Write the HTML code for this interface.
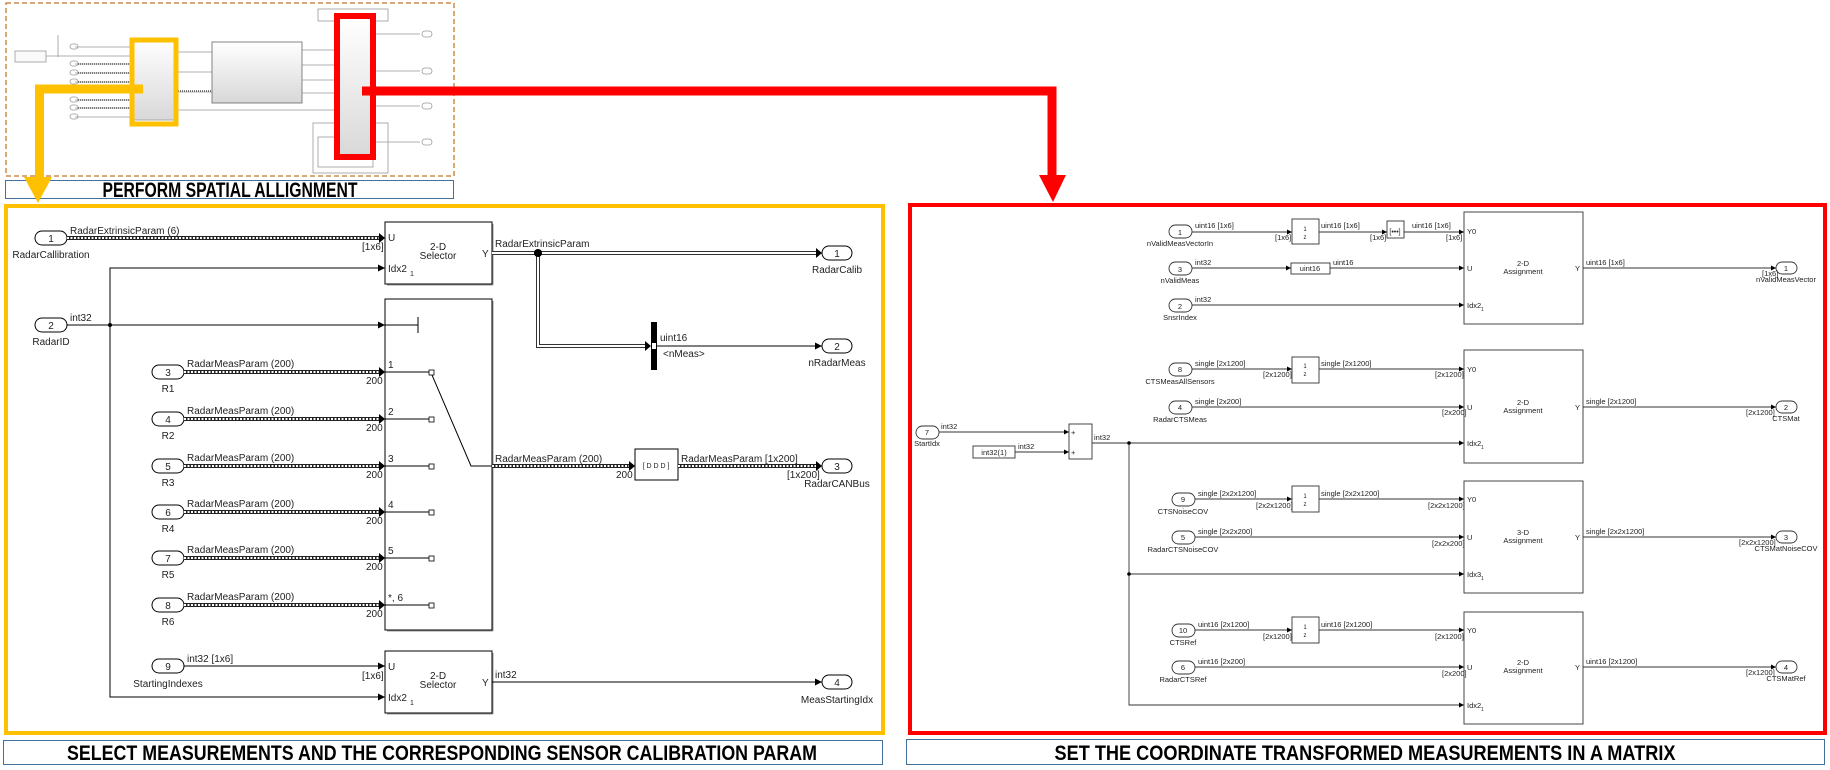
<!DOCTYPE html>
<html><head><meta charset="utf-8">
<style>
html,body{margin:0;padding:0;background:#fff;}
svg{display:block;}
text{font-family:"Liberation Sans",Arial,sans-serif;fill:#222;}
.s{font-size:10px;}
.r{font-size:7.5px;}
.t{font-family:"Liberation Sans Narrow","Liberation Sans",sans-serif;font-weight:bold;font-size:21px;fill:#000;}
</style></head>
<body>
<svg width="1830" height="770" viewBox="0 0 1830 770" xmlns="http://www.w3.org/2000/svg">
<defs>
<marker id="a" viewBox="0 0 10 10" refX="10" refY="5" markerWidth="7" markerHeight="7" orient="auto" markerUnits="userSpaceOnUse"><path d="M0,0L10,5L0,10z" fill="#000"/></marker>
<marker id="b" viewBox="0 0 10 10" refX="10" refY="5" markerWidth="5" markerHeight="5" orient="auto" markerUnits="userSpaceOnUse"><path d="M0,0L10,5L0,10z" fill="#000"/></marker>
<linearGradient id="g" x1="0" y1="0" x2="0" y2="1"><stop offset="0" stop-color="#fff"/><stop offset="1" stop-color="#d8d8d8"/></linearGradient>
</defs>

<!-- ===== Thumbnail ===== -->
<rect x="6" y="3" width="448" height="173" fill="none" stroke="#d08a4a" stroke-width="1.5" stroke-dasharray="5,3"/>
<g stroke="#999" stroke-width="0.8" fill="none">
<rect x="15" y="51" width="31" height="11" fill="#fafafa"/>
<line x1="46" y1="56" x2="130" y2="56"/>
<line x1="58" y1="35" x2="58" y2="57"/>
<line x1="75" y1="47" x2="130" y2="47"/><line x1="75" y1="64" x2="130" y2="64"/>
<line x1="75" y1="73" x2="130" y2="73"/><line x1="75" y1="82" x2="130" y2="82"/>
<line x1="75" y1="100" x2="130" y2="100"/><line x1="75" y1="108" x2="130" y2="108"/>
<line x1="75" y1="117" x2="130" y2="117"/>
<rect x="130" y="40" width="48" height="80" fill="url(#g)"/>
<line x1="178" y1="52" x2="212" y2="52"/><line x1="178" y1="72" x2="212" y2="72"/>
<line x1="178" y1="92" x2="212" y2="92"/><line x1="178" y1="110" x2="335" y2="110"/>
<rect x="212" y="42" width="90" height="61" fill="url(#g)" stroke="#666"/>
<line x1="302" y1="50" x2="335" y2="50"/><line x1="302" y1="65" x2="335" y2="65"/>
<line x1="302" y1="80" x2="335" y2="80"/><line x1="302" y1="93" x2="335" y2="93"/>
<rect x="318" y="9" width="70" height="12" fill="#fff"/>
<rect x="313" y="123" width="75" height="50" fill="#fff"/>
<rect x="318" y="137" width="55" height="30" fill="#fff"/>
<rect x="335" y="18" width="38" height="140" fill="url(#g)"/>
<line x1="376" y1="34" x2="420" y2="34"/><line x1="376" y1="71" x2="420" y2="71"/>
<line x1="376" y1="106" x2="420" y2="106"/><line x1="376" y1="142" x2="420" y2="142"/>
<rect x="422" y="31" width="10" height="6" rx="3"/><rect x="422" y="68" width="10" height="6" rx="3"/>
<rect x="422" y="103" width="10" height="6" rx="3"/><rect x="422" y="139" width="10" height="6" rx="3"/>
<rect x="70" y="44" width="8" height="5" rx="2.5"/><rect x="70" y="61" width="8" height="5" rx="2.5"/>
<rect x="70" y="70" width="8" height="5" rx="2.5"/><rect x="70" y="79" width="8" height="5" rx="2.5"/>
<rect x="70" y="97" width="8" height="5" rx="2.5"/><rect x="70" y="105" width="8" height="5" rx="2.5"/>
<rect x="70" y="114" width="8" height="5" rx="2.5"/>
</g>
<g stroke="#555" stroke-width="1.6" stroke-dasharray="1,1"><line x1="78" y1="64" x2="130" y2="64"/><line x1="78" y1="73" x2="130" y2="73"/><line x1="78" y1="82" x2="130" y2="82"/><line x1="78" y1="100" x2="130" y2="100"/><line x1="78" y1="108" x2="130" y2="108"/><line x1="178" y1="91" x2="212" y2="91"/></g>
<rect x="132" y="40" width="44" height="84" fill="none" stroke="#FFC000" stroke-width="5"/>
<rect x="337" y="16" width="36" height="141" fill="none" stroke="#FF0000" stroke-width="6"/>

<!-- title 1 -->
<rect x="5.5" y="180.5" width="448" height="18" fill="#fff" stroke="#41719C" stroke-width="1"/>
<text class="t" x="230" y="197" text-anchor="middle" textLength="255" lengthAdjust="spacingAndGlyphs">PERFORM SPATIAL ALLIGNMENT</text>

<!-- yellow arrow -->
<polyline points="143,89 39.5,89 39.5,180" fill="none" stroke="#FFC000" stroke-width="9"/>
<polygon points="24,177 52,177 38,203" fill="#FFC000"/>
<!-- red arrow -->
<polyline points="362,91 1052,91 1052,178" fill="none" stroke="#FF0000" stroke-width="9"/>
<polygon points="1039,175 1066,175 1053,202" fill="#FF0000"/>

<!-- ===== Left panel ===== -->
<rect x="6" y="206" width="877" height="527" fill="none" stroke="#FFC000" stroke-width="4"/>
<g stroke="#000" stroke-width="1" fill="none">
<rect x="385" y="222" width="107" height="62" fill="#fff"/>
<rect x="385" y="299" width="107" height="331" fill="#fff"/>
<rect x="385" y="651" width="107" height="62" fill="#fff"/>
<line x1="387" y1="285" x2="493" y2="285" stroke="#999"/><line x1="493" y1="224" x2="493" y2="285" stroke="#999"/>
<line x1="387" y1="631" x2="493" y2="631" stroke="#999"/><line x1="493" y1="301" x2="493" y2="631" stroke="#999"/>
<line x1="387" y1="714" x2="493" y2="714" stroke="#999"/><line x1="493" y1="653" x2="493" y2="714" stroke="#999"/>
<polyline points="110,325 110,268 385,268" marker-end="url(#a)"/>
<polyline points="110,325 110,697 385,697" marker-end="url(#a)"/>
<line x1="67" y1="325" x2="385" y2="325" marker-end="url(#a)"/>
<line x1="385" y1="325" x2="418" y2="325"/><line x1="418" y1="317" x2="418" y2="333"/>
<line x1="184" y1="666" x2="385" y2="666" marker-end="url(#a)"/>
<line x1="492" y1="682" x2="822" y2="682" marker-end="url(#a)"/>
<line x1="657" y1="346" x2="822" y2="346" marker-end="url(#a)"/>
<line x1="385" y1="372" x2="429" y2="372"/><line x1="385" y1="419" x2="429" y2="419"/>
<line x1="385" y1="466" x2="429" y2="466"/><line x1="385" y1="512" x2="429" y2="512"/>
<line x1="385" y1="558" x2="429" y2="558"/><line x1="385" y1="605" x2="429" y2="605"/>
<rect x="429" y="370" width="5" height="5" fill="#fff" stroke-width="0.8"/>
<rect x="429" y="417" width="5" height="5" fill="#fff" stroke-width="0.8"/>
<rect x="429" y="464" width="5" height="5" fill="#fff" stroke-width="0.8"/>
<rect x="429" y="510" width="5" height="5" fill="#fff" stroke-width="0.8"/>
<rect x="429" y="556" width="5" height="5" fill="#fff" stroke-width="0.8"/>
<rect x="429" y="603" width="5" height="5" fill="#fff" stroke-width="0.8"/>
<polyline points="432,375 471,466 492,466"/>
<rect x="635" y="449" width="43" height="31" fill="#fff"/>
<rect x="35" y="231" width="32" height="14" rx="7" fill="#fff"/>
<rect x="35" y="318" width="32" height="14" rx="7" fill="#fff"/>
<rect x="152" y="365" width="32" height="14" rx="7" fill="#fff"/>
<rect x="152" y="412" width="32" height="14" rx="7" fill="#fff"/>
<rect x="152" y="459" width="32" height="14" rx="7" fill="#fff"/>
<rect x="152" y="505" width="32" height="14" rx="7" fill="#fff"/>
<rect x="152" y="551" width="32" height="14" rx="7" fill="#fff"/>
<rect x="152" y="598" width="32" height="14" rx="7" fill="#fff"/>
<rect x="152" y="659" width="32" height="14" rx="7" fill="#fff"/>
<rect x="822" y="246" width="30" height="14" rx="7" fill="#fff"/>
<rect x="822" y="339" width="30" height="14" rx="7" fill="#fff"/>
<rect x="822" y="459" width="30" height="14" rx="7" fill="#fff"/>
<rect x="822" y="675" width="30" height="14" rx="7" fill="#fff"/>
</g>
<g fill="none">
<g stroke="#222" stroke-width="4">
<line x1="67" y1="238" x2="379" y2="238"/>
<line x1="184" y1="372" x2="379" y2="372"/><line x1="184" y1="419" x2="379" y2="419"/>
<line x1="184" y1="466" x2="379" y2="466"/><line x1="184" y1="512" x2="379" y2="512"/>
<line x1="184" y1="558" x2="379" y2="558"/><line x1="184" y1="605" x2="379" y2="605"/>
<line x1="492" y1="466" x2="629" y2="466"/><line x1="678" y1="466" x2="816" y2="466"/>
</g>
<g stroke="#fff" stroke-width="2" stroke-dasharray="2,1.5">
<line x1="67" y1="238" x2="379" y2="238"/>
<line x1="184" y1="372" x2="379" y2="372"/><line x1="184" y1="419" x2="379" y2="419"/>
<line x1="184" y1="466" x2="379" y2="466"/><line x1="184" y1="512" x2="379" y2="512"/>
<line x1="184" y1="558" x2="379" y2="558"/><line x1="184" y1="605" x2="379" y2="605"/>
<line x1="492" y1="466" x2="629" y2="466"/><line x1="678" y1="466" x2="816" y2="466"/>
</g>
<polyline points="492,253 816,253" stroke="#333" stroke-width="4"/>
<polyline points="538,253 538,346 645,346" stroke="#333" stroke-width="4"/>
<polyline points="492,253 816,253" stroke="#fff" stroke-width="2"/>
<polyline points="538,253 538,346 645,346" stroke="#fff" stroke-width="2"/>
</g>
<g fill="#000">
<path d="M379,233L385,238L379,243z"/>
<path d="M379,367L385,372L379,377z"/><path d="M379,414L385,419L379,424z"/>
<path d="M379,461L385,466L379,471z"/><path d="M379,507L385,512L379,517z"/>
<path d="M379,553L385,558L379,563z"/><path d="M379,600L385,605L379,610z"/>
<path d="M629,461L635,466L629,471z"/><path d="M816,461L822,466L816,471z"/>
<path d="M816,248L822,253L816,258z"/><path d="M645,341L651,346L645,351z"/>
<circle cx="538" cy="253" r="4"/><circle cx="110" cy="325" r="2"/>
<rect x="651" y="322" width="6" height="48"/>
</g>
<rect x="652" y="343" width="4" height="6" fill="#fff"/>
<g class="s">
<text x="70" y="234">RadarExtrinsicParam (6)</text>
<text x="51" y="258" text-anchor="middle">RadarCallibration</text>
<text x="70" y="321">int32</text>
<text x="51" y="345" text-anchor="middle">RadarID</text>
<text x="51" y="242" text-anchor="middle">1</text>
<text x="51" y="329" text-anchor="middle">2</text>
<text x="388" y="241">U</text><text x="362" y="250">[1x6]</text>
<text x="388" y="272">Idx2</text><text x="410" y="276" font-size="7">1</text>
<text x="438" y="250" text-anchor="middle">2-D</text><text x="438" y="259" text-anchor="middle">Selector</text>
<text x="482" y="257">Y</text>
<text x="495" y="247">RadarExtrinsicParam</text>
<text x="837" y="257" text-anchor="middle">1</text><text x="837" y="273" text-anchor="middle">RadarCalib</text>
<text x="660" y="341">uint16</text><text x="663" y="357">&lt;nMeas&gt;</text>
<text x="837" y="350" text-anchor="middle">2</text><text x="837" y="366" text-anchor="middle">nRadarMeas</text>
<text x="187" y="367">RadarMeasParam (200)</text><text x="168" y="376" text-anchor="middle">3</text><text x="168" y="392" text-anchor="middle">R1</text><text x="366" y="384">200</text><text x="388" y="368">1</text>
<text x="187" y="414">RadarMeasParam (200)</text><text x="168" y="423" text-anchor="middle">4</text><text x="168" y="439" text-anchor="middle">R2</text><text x="366" y="431">200</text><text x="388" y="415">2</text>
<text x="187" y="461">RadarMeasParam (200)</text><text x="168" y="470" text-anchor="middle">5</text><text x="168" y="486" text-anchor="middle">R3</text><text x="366" y="478">200</text><text x="388" y="462">3</text>
<text x="187" y="507">RadarMeasParam (200)</text><text x="168" y="516" text-anchor="middle">6</text><text x="168" y="532" text-anchor="middle">R4</text><text x="366" y="524">200</text><text x="388" y="508">4</text>
<text x="187" y="553">RadarMeasParam (200)</text><text x="168" y="562" text-anchor="middle">7</text><text x="168" y="578" text-anchor="middle">R5</text><text x="366" y="570">200</text><text x="388" y="554">5</text>
<text x="187" y="600">RadarMeasParam (200)</text><text x="168" y="609" text-anchor="middle">8</text><text x="168" y="625" text-anchor="middle">R6</text><text x="366" y="617">200</text><text x="388" y="601">*, 6</text>
<text x="495" y="462">RadarMeasParam (200)</text><text x="616" y="478">200</text>
<text x="656" y="468" text-anchor="middle" font-size="7">[ D D D ]</text>
<text x="681" y="462">RadarMeasParam [1x200]</text><text x="787" y="478">[1x200]</text>
<text x="837" y="470" text-anchor="middle">3</text><text x="837" y="487" text-anchor="middle">RadarCANBus</text>
<text x="187" y="662">int32 [1x6]</text><text x="168" y="670" text-anchor="middle">9</text><text x="168" y="687" text-anchor="middle">StartingIndexes</text>
<text x="388" y="670">U</text><text x="362" y="679">[1x6]</text>
<text x="388" y="701">Idx2</text><text x="410" y="705" font-size="7">1</text>
<text x="438" y="679" text-anchor="middle">2-D</text><text x="438" y="688" text-anchor="middle">Selector</text>
<text x="482" y="686">Y</text><text x="495" y="678">int32</text>
<text x="837" y="686" text-anchor="middle">4</text><text x="837" y="703" text-anchor="middle">MeasStartingIdx</text>
</g>
<rect x="3.5" y="740.5" width="879" height="24" fill="#fff" stroke="#41719C" stroke-width="1"/>
<text class="t" x="442" y="760" text-anchor="middle" textLength="750" lengthAdjust="spacingAndGlyphs" font-size="24">SELECT MEASUREMENTS AND THE CORRESPONDING SENSOR CALIBRATION PARAM</text>

<!-- ===== Right panel ===== -->
<rect x="910" y="205" width="915" height="528" fill="none" stroke="#FF0000" stroke-width="4"/>
<g stroke="#333" stroke-width="0.9" fill="none">
<rect x="1464" y="212" width="119" height="112" fill="#fff"/>
<rect x="1464" y="350" width="119" height="113" fill="#fff"/>
<rect x="1464" y="481" width="119" height="112" fill="#fff"/>
<rect x="1464" y="612" width="119" height="112" fill="#fff"/>
<line x1="1192" y1="232" x2="1292" y2="232" marker-end="url(#b)"/>
<rect x="1292" y="219" width="27" height="25" fill="#fff"/>
<line x1="1319" y1="232" x2="1387" y2="232" marker-end="url(#b)"/>
<rect x="1387" y="221" width="17" height="17" fill="#fff"/>
<line x1="1404" y1="232" x2="1464" y2="232" marker-end="url(#b)"/>
<line x1="1192" y1="268" x2="1291" y2="268" marker-end="url(#b)"/>
<rect x="1291" y="263" width="39" height="11" fill="#fff"/>
<line x1="1330" y1="268" x2="1464" y2="268" marker-end="url(#b)"/>
<line x1="1192" y1="305" x2="1464" y2="305" marker-end="url(#b)"/>
<line x1="1583" y1="268" x2="1776" y2="268" marker-end="url(#b)"/>
<line x1="1192" y1="369" x2="1292" y2="369" marker-end="url(#b)"/>
<rect x="1292" y="357" width="27" height="26" fill="#fff"/>
<line x1="1319" y1="369" x2="1464" y2="369" marker-end="url(#b)"/>
<line x1="1192" y1="407" x2="1464" y2="407" marker-end="url(#b)"/>
<line x1="1583" y1="407" x2="1776" y2="407" marker-end="url(#b)"/>
<line x1="1129" y1="443" x2="1464" y2="443" marker-end="url(#b)"/>
<line x1="1195" y1="499" x2="1292" y2="499" marker-end="url(#b)"/>
<rect x="1292" y="486" width="27" height="26" fill="#fff"/>
<line x1="1319" y1="499" x2="1464" y2="499" marker-end="url(#b)"/>
<line x1="1195" y1="537" x2="1464" y2="537" marker-end="url(#b)"/>
<line x1="1583" y1="537" x2="1776" y2="537" marker-end="url(#b)"/>
<line x1="1129" y1="574" x2="1464" y2="574" marker-end="url(#b)"/>
<line x1="1195" y1="630" x2="1292" y2="630" marker-end="url(#b)"/>
<rect x="1292" y="617" width="27" height="26" fill="#fff"/>
<line x1="1319" y1="630" x2="1464" y2="630" marker-end="url(#b)"/>
<line x1="1195" y1="667" x2="1464" y2="667" marker-end="url(#b)"/>
<line x1="1583" y1="667" x2="1776" y2="667" marker-end="url(#b)"/>
<polyline points="1129,443 1129,705 1464,705" marker-end="url(#b)"/>
<line x1="939" y1="432" x2="1069" y2="432" marker-end="url(#b)"/>
<rect x="973" y="446" width="42" height="12" fill="#fff"/>
<line x1="1015" y1="452" x2="1069" y2="452" marker-end="url(#b)"/>
<rect x="1069" y="424" width="23" height="35" fill="#fff"/>
<line x1="1092" y1="443" x2="1129" y2="443"/>
<rect x="1169" y="225" width="23" height="13" rx="6.5" fill="#fff"/>
<rect x="1169" y="262" width="23" height="13" rx="6.5" fill="#fff"/>
<rect x="1169" y="299" width="23" height="13" rx="6.5" fill="#fff"/>
<rect x="1169" y="363" width="23" height="13" rx="6.5" fill="#fff"/>
<rect x="1169" y="401" width="23" height="13" rx="6.5" fill="#fff"/>
<rect x="1172" y="493" width="23" height="13" rx="6.5" fill="#fff"/>
<rect x="1172" y="531" width="23" height="13" rx="6.5" fill="#fff"/>
<rect x="1172" y="624" width="23" height="13" rx="6.5" fill="#fff"/>
<rect x="1172" y="661" width="23" height="13" rx="6.5" fill="#fff"/>
<rect x="916" y="426" width="23" height="13" rx="6.5" fill="#fff"/>
<rect x="1776" y="262" width="21" height="12" rx="6" fill="#fff"/>
<rect x="1776" y="401" width="21" height="12" rx="6" fill="#fff"/>
<rect x="1776" y="531" width="21" height="12" rx="6" fill="#fff"/>
<rect x="1776" y="661" width="21" height="12" rx="6" fill="#fff"/>
</g>
<circle cx="1129" cy="443" r="1.8" fill="#000"/><circle cx="1129" cy="574" r="1.8" fill="#000"/>
<g class="r">
<text x="1180" y="235" text-anchor="middle">1</text><text x="1180" y="246" text-anchor="middle">nValidMeasVectorIn</text>
<text x="1180" y="272" text-anchor="middle">3</text><text x="1180" y="283" text-anchor="middle">nValidMeas</text>
<text x="1180" y="309" text-anchor="middle">2</text><text x="1180" y="320" text-anchor="middle">SnsrIndex</text>
<text x="1195" y="228">uint16 [1x6]</text><text x="1195" y="265">int32</text><text x="1195" y="302">int32</text>
<text x="1275" y="240">[1x6]</text>
<text x="1305" y="231" text-anchor="middle" font-size="6">1</text><text x="1305" y="239" text-anchor="middle" font-size="6">z</text>
<text x="1321" y="228">uint16 [1x6]</text><text x="1370" y="240">[1x6]</text>
<text x="1395" y="234" text-anchor="middle" font-size="7">[•••]</text>
<text x="1412" y="228">uint16 [1x6]</text><text x="1446" y="240">[1x6]</text>
<text x="1310" y="271" text-anchor="middle">uint16</text><text x="1333" y="265">uint16</text>
<text x="1467" y="234">Y0</text><text x="1467" y="271">U</text><text x="1467" y="308">Idx2</text><text x="1481" y="311" font-size="5">1</text>
<text x="1523" y="266" text-anchor="middle">2-D</text><text x="1523" y="274" text-anchor="middle">Assignment</text>
<text x="1575" y="271">Y</text><text x="1586" y="265">uint16 [1x6]</text>
<text x="1786" y="271" text-anchor="middle">1</text><text x="1762" y="276">[1x6]</text><text x="1786" y="282" text-anchor="middle">nValidMeasVector</text>

<text x="1180" y="372" text-anchor="middle">8</text><text x="1180" y="384" text-anchor="middle">CTSMeasAllSensors</text>
<text x="1180" y="410" text-anchor="middle">4</text><text x="1180" y="422" text-anchor="middle">RadarCTSMeas</text>
<text x="1195" y="366">single [2x1200]</text><text x="1195" y="404">single [2x200]</text>
<text x="1263" y="377">[2x1200]</text>
<text x="1305" y="368" text-anchor="middle" font-size="6">1</text><text x="1305" y="376" text-anchor="middle" font-size="6">z</text>
<text x="1321" y="366">single [2x1200]</text><text x="1435" y="377">[2x1200]</text><text x="1442" y="415">[2x200]</text>
<text x="1467" y="372">Y0</text><text x="1467" y="410">U</text><text x="1467" y="446">Idx2</text><text x="1481" y="449" font-size="5">1</text>
<text x="1523" y="405" text-anchor="middle">2-D</text><text x="1523" y="413" text-anchor="middle">Assignment</text>
<text x="1575" y="410">Y</text><text x="1586" y="404">single [2x1200]</text>
<text x="1786" y="410" text-anchor="middle">2</text><text x="1746" y="415">[2x1200]</text><text x="1786" y="421" text-anchor="middle">CTSMat</text>

<text x="927" y="435" text-anchor="middle">7</text><text x="927" y="446" text-anchor="middle">StartIdx</text>
<text x="941" y="429">int32</text><text x="994" y="455" text-anchor="middle">int32(1)</text><text x="1018" y="449">int32</text>
<text x="1071" y="435">+</text><text x="1071" y="455">+</text><text x="1094" y="440">int32</text>

<text x="1183" y="502" text-anchor="middle">9</text><text x="1183" y="514" text-anchor="middle">CTSNoiseCOV</text>
<text x="1183" y="540" text-anchor="middle">5</text><text x="1183" y="552" text-anchor="middle">RadarCTSNoiseCOV</text>
<text x="1198" y="496">single [2x2x1200]</text><text x="1198" y="534">single [2x2x200]</text>
<text x="1256" y="508">[2x2x1200]</text>
<text x="1305" y="498" text-anchor="middle" font-size="6">1</text><text x="1305" y="506" text-anchor="middle" font-size="6">z</text>
<text x="1321" y="496">single [2x2x1200]</text><text x="1428" y="508">[2x2x1200]</text><text x="1432" y="546">[2x2x200]</text>
<text x="1467" y="502">Y0</text><text x="1467" y="540">U</text><text x="1467" y="577">Idx3</text><text x="1481" y="580" font-size="5">1</text>
<text x="1523" y="535" text-anchor="middle">3-D</text><text x="1523" y="543" text-anchor="middle">Assignment</text>
<text x="1575" y="540">Y</text><text x="1586" y="534">single [2x2x1200]</text>
<text x="1786" y="540" text-anchor="middle">3</text><text x="1739" y="545">[2x2x1200]</text><text x="1786" y="551" text-anchor="middle">CTSMatNoiseCOV</text>

<text x="1183" y="633" text-anchor="middle">10</text><text x="1183" y="645" text-anchor="middle">CTSRef</text>
<text x="1183" y="670" text-anchor="middle">6</text><text x="1183" y="682" text-anchor="middle">RadarCTSRef</text>
<text x="1198" y="627">uint16 [2x1200]</text><text x="1198" y="664">uint16 [2x200]</text>
<text x="1263" y="639">[2x1200]</text>
<text x="1305" y="629" text-anchor="middle" font-size="6">1</text><text x="1305" y="637" text-anchor="middle" font-size="6">z</text>
<text x="1321" y="627">uint16 [2x1200]</text><text x="1435" y="639">[2x1200]</text><text x="1442" y="676">[2x200]</text>
<text x="1467" y="633">Y0</text><text x="1467" y="670">U</text><text x="1467" y="708">Idx2</text><text x="1481" y="711" font-size="5">1</text>
<text x="1523" y="665" text-anchor="middle">2-D</text><text x="1523" y="673" text-anchor="middle">Assignment</text>
<text x="1575" y="670">Y</text><text x="1586" y="664">uint16 [2x1200]</text>
<text x="1786" y="670" text-anchor="middle">4</text><text x="1746" y="675">[2x1200]</text><text x="1786" y="681" text-anchor="middle">CTSMatRef</text>
</g>
<rect x="906.5" y="739.5" width="918" height="25" fill="#fff" stroke="#41719C" stroke-width="1"/>
<text class="t" x="1365" y="760" text-anchor="middle" textLength="621" lengthAdjust="spacingAndGlyphs" font-size="24">SET THE COORDINATE TRANSFORMED MEASUREMENTS IN A MATRIX</text>
</svg>
</body></html>
